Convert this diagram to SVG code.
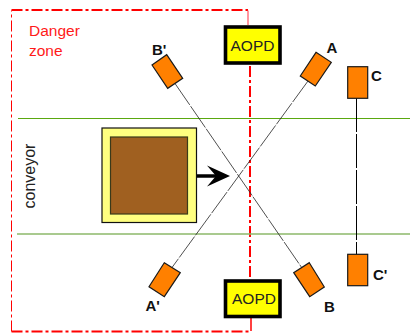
<svg xmlns="http://www.w3.org/2000/svg" width="410" height="333" viewBox="0 0 410 333">
<style>
.s{fill:#ff8000;stroke:#1a1a1a;stroke-width:1.2}
.a{fill:#ffff00;stroke:#000;stroke-width:3.6}
.b{fill:none;stroke:#222;stroke-width:.8;stroke-dasharray:26 1.5}
.z{fill:none;stroke:#f00;stroke-dasharray:11 3 3 3}
text{font-family:"Liberation Sans",Arial,sans-serif}
.l{font-size:15px;font-weight:bold;fill:#111}
.t{font-size:15.5px;fill:#222}
.r{font-size:15.500px;fill:#ff1a1a}
</style>
<g id="danger-zone">
<path class="z" d="M11.500 331.500V10.500" stroke-width="1"/>
<path class="z" d="M11.500 10H248" stroke-width="2"/>
<path d="M248 10.500V25" fill="none" stroke="#ff5060" stroke-width="1.200"/>
<path class="z" d="M250 66V279" stroke-width="2"/>
<path class="z" d="M11.500 331.500H251" stroke-width="1.800"/>
<path d="M251 318V331" fill="none" stroke="#f00" stroke-width="1.500"/>
<text class="r" x="29" y="36">Danger</text>
<text class="r" x="29" y="56">zone</text>
</g>
<g id="conveyor">
<path d="M18 118.500H410" stroke="#5aa80f" stroke-width="1" fill="none"/>
<path d="M17 234H410" stroke="#8db96a" stroke-width="1.500" fill="none"/>
<text x="35" y="208.500" transform="rotate(-90 35 208.500)" font-size="16" fill="#222">conveyor</text>
</g>
<g id="connectors">
<path class="b" d="M175 83.500L302 268"/>
<path class="b" d="M308 81L172 267.500"/>
<path d="M356.500 98V255" fill="none" stroke="#000" stroke-width="1" stroke-dasharray="34 2"/>
</g>
<g id="load">
<rect x="102" y="128" width="94.500" height="94.500" fill="#ffff80" stroke="#111" stroke-width="1.200"/>
<rect x="110.500" y="137" width="77" height="77" fill="#a06020" stroke="#3a3a1a" stroke-width="1.200"/>
</g>
<g id="arrow">
<path d="M197 176H218" stroke="#000" stroke-width="3.500" fill="none"/>
<path d="M230 176L207 165.500L216 176L207 186.500Z" fill="#000"/>
</g>
<g id="aopd-top">
<rect class="a" x="225.500" y="27" width="54.500" height="36"/>
<text class="t" x="252.500" y="51" text-anchor="middle">AOPD</text>
</g>
<g id="aopd-bottom">
<rect class="a" x="225.500" y="281" width="54.500" height="35.500"/>
<text class="t" x="254" y="303.500" text-anchor="middle">AOPD</text>
</g>
<g id="sensor-b-prime">
<polygon class="s" points="152,65 166.700,54.700 182.700,78.300 167.700,88.300"/>
<text class="l" x="152" y="55">B'</text>
</g>
<g id="sensor-a">
<polygon class="s" points="316,52.300 331.300,62.300 315.300,86 300.300,76"/>
<text class="l" x="326.500" y="53">A</text>
</g>
<g id="sensor-c">
<rect class="s" x="347.700" y="66.700" width="20" height="31.600"/>
<text class="l" x="371" y="81">C</text>
</g>
<g id="sensor-a-prime">
<polygon class="s" points="164.300,262.700 180.300,272.700 164.300,296.700 149,286.700"/>
<text class="l" x="145.500" y="311">A'</text>
</g>
<g id="sensor-b">
<polygon class="s" points="309.300,262.700 324.300,287 309.700,296.700 293.700,272.700"/>
<text class="l" x="324" y="312">B</text>
</g>
<g id="sensor-c-prime">
<rect class="s" x="347.700" y="254.300" width="20" height="31.400"/>
<text class="l" x="373" y="280">C'</text>
</g>
</svg>
